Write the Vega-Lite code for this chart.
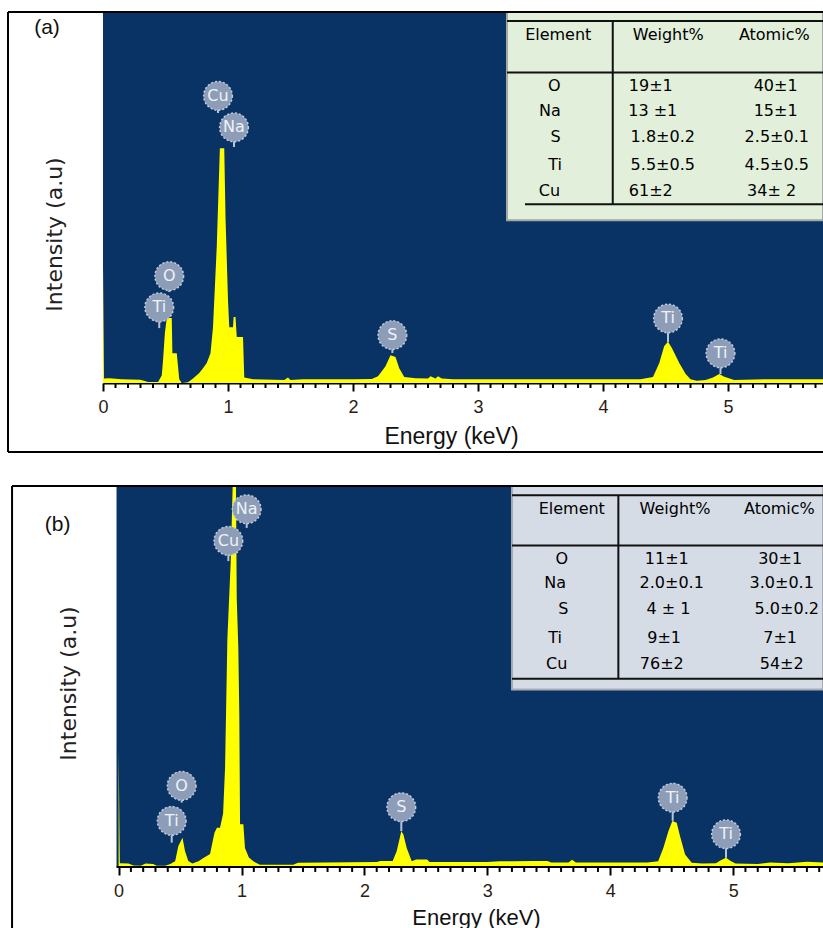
{
  "$schema": "https://vega.github.io/schema/vega-lite/v6.json",
  "padding": {"left": 7, "top": 11, "right": 0, "bottom": 0},
  "background": "white",
  "spacing": 31,
  "config": {"view": {"stroke": null}},
  "datasets": {
    "specA": [
      {"E":0,"I":32},{"E":0.008,"I":1.2},{"E":0.05,"I":1.3},{"E":0.15,"I":1.0},{"E":0.3,"I":0.9},{"E":0.36,"I":0.3},{"E":0.44,"I":0.3},{"E":0.47,"I":2},{"E":0.48,"I":6},{"E":0.495,"I":13.5},{"E":0.51,"I":17.5},{"E":0.55,"I":17.5},{"E":0.555,"I":8},{"E":0.59,"I":8},{"E":0.61,"I":1},{"E":0.63,"I":0},{"E":0.68,"I":0.2},{"E":0.72,"I":1.2},{"E":0.77,"I":2.7},{"E":0.8,"I":4},{"E":0.83,"I":5.4},{"E":0.86,"I":8},{"E":0.88,"I":15},{"E":0.91,"I":36.7},{"E":0.935,"I":63.3},{"E":0.97,"I":63.3},{"E":0.98,"I":44.7},{"E":1.0,"I":22.4},{"E":1.01,"I":15},{"E":1.04,"I":15},{"E":1.045,"I":17.8},{"E":1.06,"I":17.8},{"E":1.07,"I":12.4},{"E":1.12,"I":12.4},{"E":1.13,"I":1.5},{"E":1.2,"I":1},{"E":1.45,"I":0.8},{"E":1.48,"I":1.5},{"E":1.5,"I":0.8},{"E":1.6,"I":1},{"E":2.0,"I":1},{"E":2.15,"I":1.1},{"E":2.2,"I":1.8},{"E":2.26,"I":4.5},{"E":2.3,"I":7.5},{"E":2.34,"I":7.0},{"E":2.37,"I":4},{"E":2.41,"I":1.6},{"E":2.5,"I":1.3},{"E":2.6,"I":1.2},{"E":2.62,"I":1.8},{"E":2.66,"I":1.2},{"E":2.68,"I":1.8},{"E":2.71,"I":1.2},{"E":2.8,"I":1},{"E":3.5,"I":1},{"E":4.3,"I":1},{"E":4.4,"I":1.6},{"E":4.45,"I":5.4},{"E":4.49,"I":10},{"E":4.52,"I":11.1},{"E":4.55,"I":9.5},{"E":4.61,"I":5.4},{"E":4.66,"I":2.5},{"E":4.7,"I":1},{"E":4.75,"I":0.6},{"E":4.82,"I":0.8},{"E":4.88,"I":1.5},{"E":4.93,"I":2.4},{"E":4.97,"I":1.7},{"E":5.05,"I":0.8},{"E":5.3,"I":1},{"E":5.76,"I":1}
    ],
    "specB": [
      {"E":0,"I":31},{"E":0.01,"I":1.0},{"E":0.08,"I":0.9},{"E":0.12,"I":0.4},{"E":0.18,"I":0.3},{"E":0.22,"I":0.9},{"E":0.28,"I":0.8},{"E":0.31,"I":0.3},{"E":0.38,"I":0.3},{"E":0.42,"I":0.8},{"E":0.46,"I":1.5},{"E":0.486,"I":5.5},{"E":0.52,"I":7.7},{"E":0.54,"I":4.2},{"E":0.567,"I":1.6},{"E":0.6,"I":0.9},{"E":0.65,"I":1.5},{"E":0.687,"I":2.3},{"E":0.744,"I":3.4},{"E":0.78,"I":9},{"E":0.8,"I":10.3},{"E":0.825,"I":10.3},{"E":0.85,"I":14},{"E":0.866,"I":26},{"E":0.885,"I":60},{"E":0.912,"I":80},{"E":0.928,"I":100},{"E":0.955,"I":100},{"E":0.961,"I":70.7},{"E":0.974,"I":57.5},{"E":0.982,"I":40},{"E":0.988,"I":11.2},{"E":1.015,"I":11.2},{"E":1.028,"I":5},{"E":1.06,"I":2.5},{"E":1.096,"I":1.5},{"E":1.15,"I":0.6},{"E":1.42,"I":0.6},{"E":1.46,"I":1.1},{"E":2.1,"I":1.3},{"E":2.13,"I":1.6},{"E":2.23,"I":1.6},{"E":2.263,"I":4.2},{"E":2.3,"I":9.4},{"E":2.317,"I":8.5},{"E":2.344,"I":5},{"E":2.385,"I":1.5},{"E":2.42,"I":2.0},{"E":2.51,"I":2.0},{"E":2.53,"I":1.3},{"E":3.0,"I":1.3},{"E":3.1,"I":1.5},{"E":3.2,"I":1.5},{"E":3.37,"I":1.6},{"E":3.49,"I":1.6},{"E":3.52,"I":1.2},{"E":3.66,"I":1.2},{"E":3.69,"I":1.9},{"E":3.72,"I":1.2},{"E":4.3,"I":1.2},{"E":4.39,"I":1.5},{"E":4.432,"I":5},{"E":4.473,"I":9.4},{"E":4.505,"I":12.1},{"E":4.541,"I":11.6},{"E":4.568,"I":8.1},{"E":4.609,"I":3.3},{"E":4.663,"I":1.1},{"E":4.75,"I":0.9},{"E":4.86,"I":1.0},{"E":4.9,"I":1.8},{"E":4.942,"I":2.4},{"E":4.98,"I":1.6},{"E":5.02,"I":0.9},{"E":5.2,"I":0.8},{"E":5.3,"I":1.2},{"E":5.45,"I":1.0},{"E":5.6,"I":1.4},{"E":5.731,"I":1.2}
    ],
    "minorTicks": [
      {"E":0.1},{"E":0.2},{"E":0.3},{"E":0.4},{"E":0.5},{"E":0.6},{"E":0.7},{"E":0.8},{"E":0.9},
      {"E":1.1},{"E":1.2},{"E":1.3},{"E":1.4},{"E":1.5},{"E":1.6},{"E":1.7},{"E":1.8},{"E":1.9},
      {"E":2.1},{"E":2.2},{"E":2.3},{"E":2.4},{"E":2.5},{"E":2.6},{"E":2.7},{"E":2.8},{"E":2.9},
      {"E":3.1},{"E":3.2},{"E":3.3},{"E":3.4},{"E":3.5},{"E":3.6},{"E":3.7},{"E":3.8},{"E":3.9},
      {"E":4.1},{"E":4.2},{"E":4.3},{"E":4.4},{"E":4.5},{"E":4.6},{"E":4.7},{"E":4.8},{"E":4.9},
      {"E":5.1},{"E":5.2},{"E":5.3},{"E":5.4},{"E":5.5},{"E":5.6},{"E":5.7}
    ],
    "labA": [
      {"E":0.92,"I":77.4,"I2":72.8,"t":"Cu"},{"E":1.048,"I":68.9,"I2":63.6,"t":"Na"},{"E":0.53,"I":28.8,"I2":24.5,"t":"O"},{"E":0.45,"I":20.4,"I2":14.8,"t":"Ti"},{"E":2.315,"I":12.9,"I2":8.1,"t":"S"},{"E":4.52,"I":17.4,"I2":11.0,"t":"Ti"},{"E":4.94,"I":8.0,"I2":2.4,"t":"Ti"}
    ],
    "labB": [
      {"E":1.042,"I":93.9,"I2":89.0,"t":"Na"},{"E":0.893,"I":85.6,"I2":80.3,"t":"Cu"},{"E":0.513,"I":21.3,"I2":16.9,"t":"O"},{"E":0.432,"I":12.1,"I2":6.4,"t":"Ti"},{"E":2.3,"I":15.7,"I2":9.4,"t":"S"},{"E":4.508,"I":18.2,"I2":12.1,"t":"Ti"},{"E":4.942,"I":8.6,"I2":2.4,"t":"Ti"}
    ],
    "tabA": [
      {"E":3.642,"I":93.8,"t":"Element"},{"E":4.522,"I":93.8,"t":"Weight%"},{"E":5.37,"I":93.8,"t":"Atomic%"},
      {"E":3.61,"I":80.1,"t":"O"},{"E":4.382,"I":80.1,"t":"19±1"},{"E":5.381,"I":80.1,"t":"40±1"},
      {"E":3.576,"I":73.4,"t":"Na"},{"E":4.398,"I":73.4,"t":"13 ±1"},{"E":5.381,"I":73.4,"t":"15±1"},
      {"E":3.621,"I":66.2,"t":"S"},{"E":4.478,"I":66.2,"t":"1.8±0.2"},{"E":5.39,"I":66.2,"t":"2.5±0.1"},
      {"E":3.616,"I":58.8,"t":"Ti"},{"E":4.478,"I":58.8,"t":"5.5±0.5"},{"E":5.39,"I":58.8,"t":"4.5±0.5"},
      {"E":3.571,"I":51.8,"t":"Cu"},{"E":4.382,"I":51.8,"t":"61±2"},{"E":5.349,"I":51.8,"t":"34± 2"}
    ],
    "tabB": [
      {"E":3.687,"I":94.0,"t":"Element"},{"E":4.527,"I":94.0,"t":"Weight%"},{"E":5.376,"I":94.0,"t":"Atomic%"},
      {"E":3.605,"I":80.9,"t":"O"},{"E":4.46,"I":80.9,"t":"11±1"},{"E":5.382,"I":80.9,"t":"30±1"},
      {"E":3.551,"I":74.6,"t":"Na"},{"E":4.5,"I":74.6,"t":"2.0±0.1"},{"E":5.395,"I":74.6,"t":"3.0±0.1"},
      {"E":3.619,"I":67.6,"t":"S"},{"E":4.473,"I":67.6,"t":"4 ± 1"},{"E":5.436,"I":67.6,"t":"5.0±0.2"},
      {"E":3.551,"I":60.2,"t":"Ti"},{"E":4.438,"I":60.2,"t":"9±1"},{"E":5.382,"I":60.2,"t":"7±1"},
      {"E":3.565,"I":53.4,"t":"Cu"},{"E":4.419,"I":53.4,"t":"76±2"},{"E":5.395,"I":53.4,"t":"54±2"}
    ],
    "linesA": [
      {"E":3.232,"E2":5.76,"I":97.6,"I2":97.6},{"E":3.232,"E2":5.76,"I":83.7,"I2":83.7},{"E":4.078,"E2":4.078,"I":97.6,"I2":48.2},{"E":3.376,"E2":5.76,"I":48.2,"I2":48.2}
    ],
    "linesB": [
      {"E":3.201,"E2":5.731,"I":97.6,"I2":97.6},{"E":3.201,"E2":5.731,"I":84.4,"I2":84.4},{"E":4.066,"E2":4.066,"I":97.6,"I2":49.4},{"E":3.201,"E2":5.731,"I":49.4,"I2":49.4}
    ],
    "frameA": [
      {"E":-0.76,"E2":-0.76,"I":100,"I2":-18.6},{"E":-0.76,"E2":5.76,"I":-18.6,"I2":-18.6},{"E":-0.76,"E2":5.76,"I":100,"I2":100}
    ],
    "frameB": [
      {"E":-0.867,"E2":-0.867,"I":100,"I2":-16},{"E":-0.867,"E2":5.731,"I":100,"I2":100},{"E":-0.017,"E2":5.731,"I":0,"I2":0}
    ]
  },
  "vconcat": [
    {
      "width": 720,
      "height": 371,
      "view": {"fill": "#0a3365", "stroke": null},
      "layer": [
        {
          "data": {"name": "specA"},
          "mark": {"type": "area", "color": "#ffff00", "clip": true},
          "encoding": {
            "x": {"field": "E", "type": "quantitative",
              "scale": {"domain": [0, 5.76], "nice": false, "zero": false},
              "axis": {
                "values": [0,1,2,3,4,5],
                "format": "d",
                "tickSize": 8, "tickColor": "#000", "tickWidth": 2,
                "domain": true, "domainColor": "#000", "domainWidth": 2,
                "grid": false,
                "labelFont": "Liberation Sans", "labelFontSize": 18, "labelColor": "#2b1d12",
                "labelPadding": 7, "labelFlush": false, "labelOverlap": false,
                "title": "Energy (keV)", "titleFont": "Liberation Sans", "titleFontSize": 23, "titleFontWeight": "normal", "titleColor": "#111",
                "titleX": 348, "titleY": 53, "titleBaseline": "middle", "titleAlign": "center"
              }
            },
            "y": {"field": "I", "type": "quantitative",
              "scale": {"domain": [0, 100], "nice": false, "zero": false},
              "axis": {"ticks": false, "labels": false, "domain": false, "grid": false,
                "title": "Intensity (a.u)", "titleFont": "DejaVu Sans", "titleFontSize": 22, "titleFontWeight": "normal", "titleColor": "#222",
                "titleX": -49, "titleY": 222, "titleBaseline": "middle", "titleAlign": "center", "titleAngle": 270}
            }
          }
        },
        {
          "data": {"name": "minorTicks"},
          "mark": {"type": "rule", "color": "#000", "strokeWidth": 2},
          "encoding": {"x": {"field": "E", "type": "quantitative"}, "y": {"datum": 0, "type": "quantitative"}, "y2": {"datum": -1.35}}
        },
        {
          "data": {"values": [{"E":3.232,"E2":5.76,"I":100,"I2":43.9}]},
          "mark": {"type": "rect", "fill": "#e2efda", "stroke": "#a3a8a3", "strokeWidth": 2},
          "encoding": {"x": {"field": "E", "type": "quantitative"}, "x2": {"field": "E2"}, "y": {"field": "I", "type": "quantitative"}, "y2": {"field": "I2"}}
        },
        {
          "data": {"name": "linesA"},
          "mark": {"type": "rule", "color": "#111", "strokeWidth": 2},
          "encoding": {"x": {"field": "E", "type": "quantitative"}, "x2": {"field": "E2"}, "y": {"field": "I", "type": "quantitative"}, "y2": {"field": "I2"}}
        },
        {
          "data": {"name": "tabA"},
          "mark": {"type": "text", "font": "DejaVu Sans", "fontSize": 16, "color": "#000", "align": "center", "baseline": "middle"},
          "encoding": {"x": {"field": "E", "type": "quantitative"}, "y": {"field": "I", "type": "quantitative"}, "text": {"field": "t"}}
        },
        {
          "data": {"name": "labA"},
          "mark": {"type": "rule", "color": "#b8c3d6", "strokeWidth": 2},
          "encoding": {"x": {"field": "E", "type": "quantitative"}, "y": {"field": "I", "type": "quantitative"}, "y2": {"field": "I2"}}
        },
        {
          "data": {"name": "labA"},
          "mark": {"type": "point", "shape": "circle", "filled": true, "size": 820, "fill": "#8d9db7", "opacity": 1, "stroke": "#c3ccdb", "strokeWidth": 1.5, "strokeDash": [2, 2]},
          "encoding": {"x": {"field": "E", "type": "quantitative"}, "y": {"field": "I", "type": "quantitative"}}
        },
        {
          "data": {"name": "labA"},
          "mark": {"type": "text", "font": "DejaVu Sans", "fontSize": 16, "color": "#eef2f8", "align": "center", "baseline": "middle"},
          "encoding": {"x": {"field": "E", "type": "quantitative"}, "y": {"field": "I", "type": "quantitative"}, "text": {"field": "t"}}
        },
        {
          "data": {"name": "frameA"},
          "mark": {"type": "rule", "color": "#000", "strokeWidth": 2},
          "encoding": {"x": {"field": "E", "type": "quantitative"}, "x2": {"field": "E2"}, "y": {"field": "I", "type": "quantitative"}, "y2": {"field": "I2"}}
        },
        {
          "data": {"values": [{"E":-0.448,"I":95.7,"t":"(a)"}]},
          "mark": {"type": "text", "font": "Liberation Sans", "fontSize": 21, "color": "#111", "align": "center", "baseline": "middle"},
          "encoding": {"x": {"field": "E", "type": "quantitative"}, "y": {"field": "I", "type": "quantitative"}, "text": {"field": "t"}}
        }
      ]
    },
    {
      "width": 720,
      "height": 381,
      "view": {"fill": null, "stroke": null},
      "layer": [
        {
          "data": {"values": [{"E":-0.017,"E2":5.731,"I":0,"I2":100}]},
          "mark": {"type": "rect", "fill": "#0a3365"},
          "encoding": {
            "x": {"field": "E", "type": "quantitative",
              "scale": {"domain": [-0.127, 5.731], "nice": false, "zero": false},
              "axis": {
                "values": [0,1,2,3,4,5],
                "format": "d",
                "tickSize": 8, "tickColor": "#000", "tickWidth": 2,
                "domain": false,
                "grid": false,
                "labelFont": "Liberation Sans", "labelFontSize": 18, "labelColor": "#2b1d12",
                "labelPadding": 7, "labelFlush": false, "labelOverlap": false,
                "title": "Energy (keV)", "titleFont": "Liberation Sans", "titleFontSize": 22, "titleFontWeight": "normal", "titleColor": "#111",
                "titleX": 373, "titleY": 50, "titleBaseline": "middle", "titleAlign": "center"
              }
            },
            "x2": {"field": "E2"},
            "y": {"field": "I", "type": "quantitative",
              "scale": {"domain": [0, 100], "nice": false, "zero": false},
              "axis": {"ticks": false, "labels": false, "domain": false, "grid": false,
                "title": "Intensity (a.u)", "titleFont": "DejaVu Sans", "titleFontSize": 22, "titleFontWeight": "normal", "titleColor": "#222",
                "titleX": -35, "titleY": 197, "titleBaseline": "middle", "titleAlign": "center", "titleAngle": 270}
            },
            "y2": {"field": "I2"}
          }
        },
        {
          "data": {"name": "specB"},
          "mark": {"type": "area", "color": "#ffff00", "clip": true},
          "encoding": {"x": {"field": "E", "type": "quantitative"}, "y": {"field": "I", "type": "quantitative"}}
        },
        {
          "data": {"name": "minorTicks"},
          "mark": {"type": "rule", "color": "#000", "strokeWidth": 2},
          "encoding": {"x": {"field": "E", "type": "quantitative"}, "y": {"datum": 0, "type": "quantitative"}, "y2": {"datum": -1.3}}
        },
        {
          "data": {"values": [{"E":3.201,"E2":5.731,"I":100,"I2":46.6}]},
          "mark": {"type": "rect", "fill": "#d6dce5", "stroke": "#a9adb3", "strokeWidth": 2},
          "encoding": {"x": {"field": "E", "type": "quantitative"}, "x2": {"field": "E2"}, "y": {"field": "I", "type": "quantitative"}, "y2": {"field": "I2"}}
        },
        {
          "data": {"name": "linesB"},
          "mark": {"type": "rule", "color": "#111", "strokeWidth": 2},
          "encoding": {"x": {"field": "E", "type": "quantitative"}, "x2": {"field": "E2"}, "y": {"field": "I", "type": "quantitative"}, "y2": {"field": "I2"}}
        },
        {
          "data": {"name": "tabB"},
          "mark": {"type": "text", "font": "DejaVu Sans", "fontSize": 16, "color": "#000", "align": "center", "baseline": "middle"},
          "encoding": {"x": {"field": "E", "type": "quantitative"}, "y": {"field": "I", "type": "quantitative"}, "text": {"field": "t"}}
        },
        {
          "data": {"name": "labB"},
          "mark": {"type": "rule", "color": "#b8c3d6", "strokeWidth": 2},
          "encoding": {"x": {"field": "E", "type": "quantitative"}, "y": {"field": "I", "type": "quantitative"}, "y2": {"field": "I2"}}
        },
        {
          "data": {"name": "labB"},
          "mark": {"type": "point", "shape": "circle", "filled": true, "size": 820, "fill": "#8d9db7", "opacity": 1, "stroke": "#c3ccdb", "strokeWidth": 1.5, "strokeDash": [2, 2]},
          "encoding": {"x": {"field": "E", "type": "quantitative"}, "y": {"field": "I", "type": "quantitative"}}
        },
        {
          "data": {"name": "labB"},
          "mark": {"type": "text", "font": "DejaVu Sans", "fontSize": 16, "color": "#eef2f8", "align": "center", "baseline": "middle"},
          "encoding": {"x": {"field": "E", "type": "quantitative"}, "y": {"field": "I", "type": "quantitative"}, "text": {"field": "t"}}
        },
        {
          "data": {"name": "frameB"},
          "mark": {"type": "rule", "color": "#000", "strokeWidth": 2},
          "encoding": {"x": {"field": "E", "type": "quantitative"}, "x2": {"field": "E2"}, "y": {"field": "I", "type": "quantitative"}, "y2": {"field": "I2"}}
        },
        {
          "data": {"values": [{"E":-0.496,"I":89.8,"t":"(b)"}]},
          "mark": {"type": "text", "font": "Liberation Sans", "fontSize": 21, "color": "#111", "align": "center", "baseline": "middle"},
          "encoding": {"x": {"field": "E", "type": "quantitative"}, "y": {"field": "I", "type": "quantitative"}, "text": {"field": "t"}}
        }
      ]
    }
  ]
}
